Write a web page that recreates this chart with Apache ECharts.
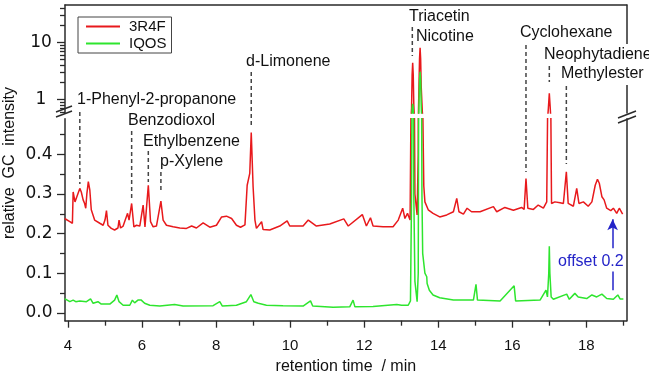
<!DOCTYPE html>
<html>
<head>
<meta charset="utf-8">
<script src="https://cdn.jsdelivr.net/npm/echarts@6/dist/echarts.min.js"></script>
<style>
html, body { margin: 0; padding: 0; background: #fff; }
#chart { width: 649px; height: 374px; }
</style>
</head>
<body>
<div id="chart"></div>
<script>
// 3R4F trace is shifted up by this amount in the plot
var OFFSET = 0.2;

// retention time (min) / relative intensity, 3R4F (without offset)
var t3R4F = [3.91, 3.96, 4.05, 4.12, 4.14, 4.19, 4.24, 4.32, 4.36, 4.41, 4.45, 4.48, 4.51, 4.55, 4.59, 4.63, 4.72, 4.86, 4.95, 5.00,
  5.04, 5.08, 5.17, 5.26, 5.35, 5.38, 5.42, 5.49, 5.53, 5.61, 5.65, 5.72, 5.78, 5.85, 5.94, 6.03, 6.08, 6.17, 6.23, 6.30,
  6.39, 6.51, 6.57, 6.66, 6.84, 7.02, 7.20, 7.34, 7.47, 7.65, 7.83, 8.01, 8.15, 8.28, 8.42, 8.55, 8.66, 8.78, 8.84, 8.91,
  8.95, 9.00, 9.05, 9.09, 9.23, 9.27, 9.45, 9.72, 9.92, 9.99, 10.35, 10.49, 10.71, 11.07, 11.45, 11.57, 11.95, 12.06, 12.17, 12.24,
  12.51, 12.78, 12.92, 13.04, 13.10, 13.17, 13.24, 13.28, 13.295, 13.31, 13.325, 13.34, 13.37, 13.43, 13.46, 13.48, 13.495, 13.51, 13.525, 13.54,
  13.57, 13.61, 13.64, 13.73, 13.86, 14.04, 14.23, 14.41, 14.50, 14.56, 14.68, 14.78, 14.90, 15.13, 15.49, 15.58, 15.80, 16.03, 16.25, 16.32,
  16.37, 16.42, 16.57, 16.70, 16.84, 16.93, 16.975, 17.00, 17.025, 17.06, 17.15, 17.29, 17.38, 17.46, 17.51, 17.65, 17.74, 17.80, 17.92, 18.05,
  18.15, 18.24, 18.30, 18.35, 18.42, 18.48, 18.55, 18.66, 18.73, 18.82, 18.89, 18.98];
var y3R4F = [0.038, 0.034, 0.030, 0.026, 0.105, 0.080, 0.093, 0.114, 0.105, 0.085, 0.076, 0.064, 0.100, 0.131, 0.110, 0.060, 0.034, 0.026, 0.021, 0.034,
  0.058, 0.021, 0.013, 0.009, 0.014, 0.034, 0.014, 0.019, 0.030, 0.051, 0.034, 0.076, 0.017, 0.021, 0.019, 0.072, 0.017, 0.122, 0.030, 0.017,
  0.019, 0.082, 0.034, 0.021, 0.017, 0.014, 0.013, 0.019, 0.014, 0.027, 0.016, 0.021, 0.042, 0.044, 0.038, 0.021, 0.016, 0.022, 0.122, 0.152,
  0.255, 0.118, 0.034, 0.013, 0.030, 0.010, 0.009, 0.019, 0.032, 0.019, 0.019, 0.034, 0.019, 0.024, 0.037, 0.019, 0.048, 0.019, 0.040, 0.019,
  0.017, 0.017, 0.034, 0.064, 0.038, 0.051, 0.034, 0.5, 2.5, 4.2, 2.5, 0.6, 0.1, 0.047, 0.2, 1.5, 5.0, 7.9, 5.0, 1.5,
  0.4, 0.12, 0.080, 0.060, 0.051, 0.042, 0.047, 0.055, 0.089, 0.055, 0.049, 0.064, 0.055, 0.055, 0.068, 0.055, 0.066, 0.059, 0.066, 0.061,
  0.139, 0.064, 0.061, 0.072, 0.064, 0.080, 0.5, 1.08, 0.5, 0.076, 0.080, 0.078, 0.076, 0.156, 0.076, 0.069, 0.114, 0.076, 0.080, 0.069,
  0.080, 0.122, 0.137, 0.127, 0.093, 0.085, 0.064, 0.058, 0.064, 0.051, 0.064, 0.049];

// IQOS
var tIQOS = [3.91, 4.05, 4.14, 4.21, 4.32, 4.50, 4.61, 4.68, 4.81, 4.90, 5.13, 5.26, 5.32, 5.38, 5.49, 5.67, 5.74, 5.80, 5.89, 5.94,
  5.98, 6.07, 6.21, 6.48, 6.88, 7.11, 7.92, 8.10, 8.17, 8.55, 8.82, 8.94, 9.02, 9.14, 9.36, 9.81, 10.35, 10.55, 10.61, 11.16,
  11.61, 11.70, 11.75, 12.24, 12.88, 12.92, 13.01, 13.19, 13.25, 13.28, 13.295, 13.31, 13.325, 13.34, 13.37, 13.43, 13.46, 13.48, 13.495, 13.51,
  13.525, 13.54, 13.56, 13.58, 13.64, 13.69, 13.70, 13.76, 13.86, 14.04, 14.41, 14.95, 15.02, 15.06, 15.67, 16.05, 16.09, 16.75, 16.91, 16.95,
  16.985, 17.00, 17.015, 17.05, 17.11, 17.47, 17.54, 17.69, 17.78, 18.01, 18.15, 18.28, 18.42, 18.55, 18.73, 18.85, 18.91, 19.00];
var yIQOS = [0.036, 0.028, 0.032, 0.028, 0.030, 0.028, 0.035, 0.024, 0.028, 0.022, 0.022, 0.032, 0.045, 0.028, 0.019, 0.019, 0.032, 0.025, 0.032, 0.030,
  0.032, 0.024, 0.019, 0.017, 0.021, 0.017, 0.018, 0.028, 0.017, 0.019, 0.028, 0.046, 0.028, 0.024, 0.019, 0.018, 0.017, 0.030, 0.017, 0.014,
  0.015, 0.032, 0.015, 0.016, 0.021, 0.025, 0.019, 0.019, 0.030, 0.3, 0.7, 0.83, 0.7, 0.3, 0.08, 0.028, 0.1, 0.8, 2.2, 3.07,
  2.2, 0.8, 0.3, 0.15, 0.10, 0.091, 0.074, 0.057, 0.045, 0.038, 0.032, 0.032, 0.072, 0.032, 0.030, 0.068, 0.030, 0.032, 0.057, 0.040,
  0.1, 0.168, 0.1, 0.040, 0.034, 0.047, 0.034, 0.049, 0.040, 0.036, 0.045, 0.040, 0.047, 0.036, 0.034, 0.045, 0.035, 0.035];

// peak labels: name, retention time of the pointer
var compounds = ['1-Phenyl-2-propanone', 'Benzodioxol', 'Ethylbenzene', 'p-Xylene', 'd-Limonene',
  'Triacetin', 'Nicotine', 'Cyclohexane', 'Neophytadiene', 'Methylester'];
var compoundTime = [4.32, 5.72, 6.17, 6.51, 8.95, 13.30, null, 16.37, 17.00, 17.46];

var xMajor = [4, 6, 8, 10, 12, 14, 16, 18];
var xMinor = [5, 7, 9, 11, 13, 15, 17, 19];
var logMajor = [1, 10];
var logMinor = [0.6, 0.7, 0.8, 0.9, 2, 3, 4, 5, 6, 7, 8, 9, 20, 30, 40];
var linMajor = [0, 0.1, 0.2, 0.3, 0.4];
var linMinor = [0.05, 0.15, 0.25, 0.35, 0.45];

var X_MIN = 3.92, X_MAX = 19.09;
var LOG_MIN = -0.242, LOG_MAX = 1.666;
var LIN_MIN = -0.02, LIN_MAX = 0.49;

var FONT = "'Liberation Sans', Arial, sans-serif";
var RED = '#e8191c', GREEN = '#2ee52e', AXIS = '#2a2a2a';

function series(t, v, off, log) {
  return t.map(function (x, i) {
    var y = v[i] + off;
    return [x, log ? Math.log10(y) : y];
  });
}
function lg(arr) { return arr.map(function (v) { return Math.log10(v); }); }

var axisLine = { show: true, onZero: false, lineStyle: { color: AXIS, width: 1.5 } };
var noAxisLine = { show: false, onZero: false };
var tickStyle = { color: AXIS, width: 1.3 };
var labelStyle = { color: '#111', fontSize: 15, fontFamily: FONT };
var yLabelStyle = { color: '#111', fontSize: 17, fontFamily: "'DejaVu Sans', sans-serif", align: 'center' };

var chart = echarts.init(document.getElementById('chart'));

var option = {
  animation: false,
  backgroundColor: '#fff',
  grid: [
    { left: 65, right: 22.3, top: 5, height: 108, containLabel: false, outerBoundsMode: 'none' },
    { left: 65, right: 22.3, top: 118.7, bottom: 53.3, containLabel: false, outerBoundsMode: 'none' }
  ],
  legend: {
    data: ['3R4F', 'IQOS'],
    orient: 'vertical',
    left: 78, top: 17,
    itemWidth: 34, itemHeight: 14, itemGap: 2,
    padding: [2, 5, 2, 7],
    borderColor: '#444', borderWidth: 1,
    itemStyle: { opacity: 0 },
    textStyle: { color: '#111', fontSize: 15, fontFamily: FONT, padding: [0, 0, 0, 4] }
  },
  xAxis: [
    { gridIndex: 0, type: 'value', min: X_MIN, max: X_MAX, position: 'top',
      axisLine: axisLine, axisTick: { show: false }, axisLabel: { show: false }, splitLine: { show: false } },
    { gridIndex: 1, type: 'value', min: X_MIN, max: X_MAX, position: 'bottom',
      axisLine: axisLine,
      axisTick: { show: true, length: 7, customValues: xMajor, lineStyle: tickStyle },
      axisLabel: Object.assign({ customValues: xMajor, margin: 18 }, labelStyle),
      splitLine: { show: false },
      name: 'retention time  / min', nameLocation: 'middle', nameGap: 37,
      nameTextStyle: { color: '#111', fontSize: 16, fontFamily: FONT } },
    { gridIndex: 1, type: 'value', min: X_MIN, max: X_MAX, position: 'bottom',
      axisLine: noAxisLine,
      axisTick: { show: true, length: 5, customValues: xMinor, lineStyle: tickStyle },
      axisLabel: { show: false }, splitLine: { show: false } }
  ],
  yAxis: [
    // upper panel, log10 of intensity
    { gridIndex: 0, type: 'value', min: LOG_MIN, max: LOG_MAX, position: 'left',
      axisLine: axisLine,
      axisTick: { show: true, length: 5, customValues: lg(logMinor), lineStyle: tickStyle },
      axisLabel: { show: false }, splitLine: { show: false } },
    { gridIndex: 0, type: 'value', min: LOG_MIN, max: LOG_MAX, position: 'left',
      axisLine: noAxisLine,
      axisTick: { show: true, length: 8, customValues: lg(logMajor), lineStyle: tickStyle },
      axisLabel: Object.assign({ customValues: lg(logMajor), margin: 24,
        formatter: function (v) { return String(Math.round(Math.pow(10, v))); } }, yLabelStyle),
      splitLine: { show: false } },
    { gridIndex: 0, type: 'value', min: LOG_MIN, max: LOG_MAX, position: 'right',
      axisLine: axisLine, axisTick: { show: false }, axisLabel: { show: false }, splitLine: { show: false } },
    // lower panel, linear
    { gridIndex: 1, type: 'value', min: LIN_MIN, max: LIN_MAX, position: 'left',
      axisLine: axisLine,
      axisTick: { show: true, length: 5, customValues: linMinor, lineStyle: tickStyle },
      axisLabel: { show: false }, splitLine: { show: false } },
    { gridIndex: 1, type: 'value', min: LIN_MIN, max: LIN_MAX, position: 'left',
      axisLine: noAxisLine,
      axisTick: { show: true, length: 8, customValues: linMajor, lineStyle: tickStyle },
      axisLabel: Object.assign({ customValues: linMajor, margin: 26,
        formatter: function (v) { return v.toFixed(1); } }, yLabelStyle),
      splitLine: { show: false } },
    { gridIndex: 1, type: 'value', min: LIN_MIN, max: LIN_MAX, position: 'right',
      axisLine: axisLine, axisTick: { show: false }, axisLabel: { show: false }, splitLine: { show: false } }
  ],
  series: [
    { name: '3R4F', type: 'line', xAxisIndex: 0, yAxisIndex: 0, symbol: 'none', clip: true,
      lineStyle: { color: RED, width: 1.5 }, itemStyle: { color: RED },
      data: series(t3R4F, y3R4F, OFFSET, true) },
    { name: '3R4F', type: 'line', xAxisIndex: 1, yAxisIndex: 3, symbol: 'none', clip: true,
      lineStyle: { color: RED, width: 1.5 }, itemStyle: { color: RED },
      data: series(t3R4F, y3R4F, OFFSET, false) },
    { name: 'IQOS', type: 'line', xAxisIndex: 0, yAxisIndex: 0, symbol: 'none', clip: true,
      lineStyle: { color: GREEN, width: 1.5 }, itemStyle: { color: GREEN },
      data: series(tIQOS, yIQOS, 0, true) },
    { name: 'IQOS', type: 'line', xAxisIndex: 1, yAxisIndex: 3, symbol: 'none', clip: true,
      lineStyle: { color: GREEN, width: 1.5 }, itemStyle: { color: GREEN },
      data: series(tIQOS, yIQOS, 0, false),
      markLine: {
        silent: true, animation: false,
        label: { show: false },
        lineStyle: { color: '#2323c8', width: 1.5, type: 'solid' },
        symbolSize: [8, 11],
        data: [
          [{ coord: [18.71, 0.163], symbol: 'none' }, { coord: [18.71, 0.236], symbol: 'arrow' }],
          [{ coord: [18.71, 0.057], symbol: 'none' }, { coord: [18.71, 0.104], symbol: 'none' }]
        ]
      } }
  ]
};
chart.setOption(option);

// pointer lines (pixel y-ranges) and label positions
var pointerY = [[112, 184], [131, 200], [151, 182], [172, 193], [72, 128], [27, 56], null, [45, 172], [66, 82], [86, 164]];
var labelPos = [[77, 100], [128, 121], [143, 142], [160, 162], [246, 62], [409, 17], [416, 37], [520, 33], [543, 55], [560, 74]];

var g = [];
compounds.forEach(function (name, i) {
  if (compoundTime[i] !== null) {
    var px = chart.convertToPixel({ xAxisIndex: 1 }, compoundTime[i]);
    g.push({ type: 'line', z: 50, shape: { x1: px, y1: pointerY[i][0], x2: px, y2: pointerY[i][1] },
      style: { stroke: '#444', lineWidth: 1.5, lineDash: [4, 3] } });
  }
});
compounds.forEach(function (name, i) {
  var boxed = name === 'Neophytadiene' || name === 'Methylester';
  g.push({ type: 'text', z: 60, x: labelPos[i][0], y: labelPos[i][1],
    style: { text: name, fill: '#111', font: '16px ' + FONT, verticalAlign: 'middle', align: 'left',
      backgroundColor: boxed ? '#fff' : null, padding: boxed ? [3, 1] : 0 } });
});
// axis breaks
[[56, 112, 72, 106], [56, 117, 72, 111], [618, 118, 636, 111], [618, 123, 636, 116]].forEach(function (s) {
  g.push({ type: 'line', z: 70, shape: { x1: s[0], y1: s[1], x2: s[2], y2: s[3] },
    style: { stroke: AXIS, lineWidth: 1.5 } });
});
// offset note
var ox = chart.convertToPixel({ xAxisIndex: 1 }, 18.71);
var oy = chart.convertToPixel({ yAxisIndex: 3 }, 0.128);
g.push({ type: 'text', z: 60, x: ox + 11, y: oy,
  style: { text: 'offset 0.2', fill: '#2323c8', font: '16px ' + FONT, align: 'right', verticalAlign: 'middle' } });
// y-axis title
g.push({ type: 'text', z: 60, x: 10, y: 163, rotation: Math.PI / 2,
  style: { text: 'relative  GC  intensity', fill: '#111', font: '16px ' + FONT, align: 'center', verticalAlign: 'middle' } });

chart.setOption({ graphic: g });
</script>
</body>
</html>
